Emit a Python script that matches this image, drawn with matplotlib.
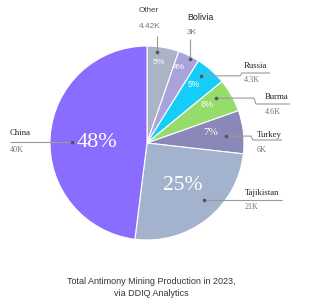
import matplotlib
matplotlib.use("Agg")
import matplotlib.pyplot as plt
import numpy as np

# ---- data ----
countries = ["Other", "Bolivia", "Russia", "Burma", "Turkey", "Tajikistan", "China"]
production_k = [4.42, 3, 4.3, 4.6, 6, 21, 40]
value_labels = ["4.42K", "3K", "4.3K", "4.6K", "6K", "21K", "40K"]
title_lines = ["Total Antimony Mining Production in 2023,", "via DDIQ Analytics"]

# ---- style ----
colors = ["#abb3c6", "#a8a3da", "#16cdfa", "#96dc6a", "#8a88b8", "#a3b2cd", "#8a6cff"]
SERIF = "Liberation Serif"
SANS = "Liberation Sans"
pct_size = [6.0, 6.0, 6.2, 6.4, 8.0, 15.5, 16]
pct_family = [SANS, SANS, SANS, SANS, SERIF, SERIF, SERIF]
pct_frac = [0.58, 0.70, 0.65, 0.66, 0.62, 0.52, 0.52]
pct_r = [0.84, 0.85, 0.77, 0.74, 0.67, 0.57, 0.52]
dot_frac = [0.67, 0.38, 0.63, 0.68, 0.44, 0.575, 0.515]
dot_r = [0.94, 0.97, 0.89, 0.85, 0.82, 0.83, 0.77]
name_family = [SANS, SANS, SERIF, SERIF, SERIF, SERIF, SERIF]
name_size = [5.9, 6.4, 6.3, 6.3, 6.3, 6.3, 6.3]
name_color = ["#444444", "#222222", "#222222", "#222222", "#222222", "#222222", "#222222"]
value_size = [6.0, 6.0, 5.9, 5.9, 5.9, 5.9, 5.9]

W, H = 314, 300
# label layout in image pixel coords (y downward)
layout = [
    ((139, 11), (139, 26), [(None, 36)]),
    ((187, 17), (187, 32), [(None, 39)]),
    ((244, 66), (244, 80), [(240, None), (242, 73), (270, 73)]),
    ((265, 97), (265, 112), [(254, None), (256, 104), (290, 104)]),
    ((257, 135), (257, 150), [(251, None), (253, 140), (282, 140)]),
    ((245, 193), (245, 207), [(282, None)]),
    ((10, 133), (10, 150), [(10, None)]),
]

fig = plt.figure(figsize=(W / 100, H / 100), dpi=100)
ax = fig.add_axes([0, 0, 1, 1])

cx, cy, R = 147, H - 143, 97
wedges, _ = ax.pie(production_k, colors=colors, startangle=90, counterclock=False,
                   center=(cx, cy), radius=R,
                   wedgeprops=dict(edgecolor="white", linewidth=0.8))
ax.set_xlim(0, W)
ax.set_ylim(0, H)
ax.set_aspect("auto")
ax.axis("off")

total = sum(production_k)

def wedge_point(w, frac, rfrac):
    ang = np.deg2rad(w.theta1 + frac * (w.theta2 - w.theta1))
    return cx + rfrac * R * np.cos(ang), cy + rfrac * R * np.sin(ang)

for i, w in enumerate(wedges):
    px, py = wedge_point(w, pct_frac[i], pct_r[i])
    pct = production_k[i] / total * 100
    ax.text(px, py, f"{pct:.0f}%", color="white", fontsize=pct_size[i],
            family=pct_family[i], ha="center", va="center")
    dx, dy = wedge_point(w, dot_frac[i], dot_r[i])
    nxy, vxy, path = layout[i]
    xs, ys = [dx], [dy]
    for (x, y) in path:
        xs.append(dx if x is None else x)
        ys.append(dy if y is None else H - y)
    ax.plot(xs, ys, color="#9a9a9a", lw=0.8, solid_capstyle="butt")
    ax.plot([dx], [dy], "o", color="#555555", ms=1.6)
    ax.text(nxy[0], H - nxy[1], countries[i], color=name_color[i], fontsize=name_size[i],
            family=name_family[i], ha="left", va="center")
    ax.text(vxy[0], H - vxy[1], value_labels[i], color="#777777", fontsize=value_size[i],
            family=name_family[i], ha="left", va="center")

for line, yy in zip(title_lines, [282, 294]):
    ax.text(151, H - yy, line, color="#333333", fontsize=6.5, family=SANS,
            ha="center", va="center")

fig.savefig("out.png", dpi=100)
